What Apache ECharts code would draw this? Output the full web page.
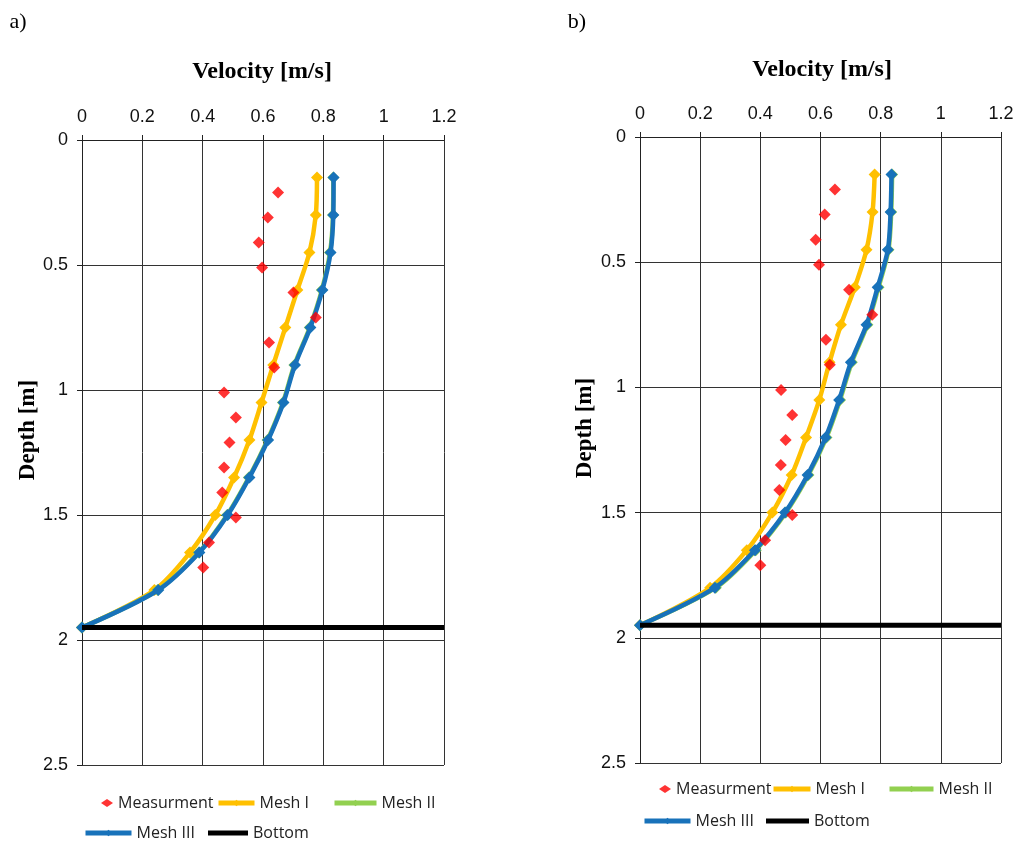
<!DOCTYPE html>
<html>
<head>
<meta charset="utf-8">
<script src="https://cdn.jsdelivr.net/npm/echarts@6/dist/echarts.min.js"></script>
<style>
html,body{margin:0;padding:0;background:#fff;}
#main{width:1019px;height:843px;}
</style>
</head>
<body>
<div id="main"></div>
<script>
// depth levels (m)
var depthMeas = [0.21, 0.31, 0.41, 0.51, 0.61, 0.71, 0.81, 0.91, 1.01, 1.11, 1.21, 1.31, 1.41, 1.51, 1.61, 1.71];
var depthMesh = [0.15, 0.3, 0.45, 0.6, 0.75, 0.9, 1.05, 1.2, 1.35, 1.5, 1.65, 1.8, 1.95];
var bottomDepth = 1.95;

// panel a) velocities (m/s)
var measA  = [0.650, 0.616, 0.586, 0.597, 0.701, 0.775, 0.620, 0.637, 0.471, 0.510, 0.489, 0.471, 0.465, 0.510, 0.421, 0.402];
var mesh1A = [0.779, 0.775, 0.754, 0.714, 0.674, 0.634, 0.595, 0.555, 0.504, 0.442, 0.358, 0.240, 0];
var mesh2A = [0.833, 0.832, 0.822, 0.795, 0.755, 0.704, 0.666, 0.615, 0.553, 0.481, 0.387, 0.251, 0];
var mesh3A = [0.834, 0.833, 0.824, 0.797, 0.757, 0.706, 0.668, 0.617, 0.555, 0.483, 0.389, 0.253, 0];

// panel b) velocities (m/s)
var measB  = [0.648, 0.614, 0.584, 0.595, 0.695, 0.772, 0.618, 0.631, 0.469, 0.506, 0.484, 0.468, 0.463, 0.506, 0.416, 0.400];
var mesh1B = [0.780, 0.773, 0.753, 0.714, 0.668, 0.630, 0.596, 0.552, 0.504, 0.440, 0.355, 0.233, 0];
var mesh2B = [0.838, 0.835, 0.826, 0.793, 0.756, 0.704, 0.665, 0.620, 0.560, 0.485, 0.385, 0.252, 0];
var mesh3B = [0.836, 0.833, 0.824, 0.790, 0.753, 0.701, 0.662, 0.617, 0.557, 0.482, 0.382, 0.249, 0];

var seriesNames = ['Measurment', 'Mesh I', 'Mesh II', 'Mesh III', 'Bottom'];
var colors = ['#FF0000', '#FFC000', '#92D050', '#1872BA', '#000000'];

function pairs(vals, depths) {
  return vals.map(function (v, i) { return [v, depths[i]]; });
}

var myChart = echarts.init(document.getElementById('main'));

var grids = [
  {left: 82, top: 140, width: 362, height: 625},
  {left: 640, top: 137, width: 361, height: 626}
];

var xAxes = [], yAxes = [], series = [], legends = [];
var panels = [
  {meas: measA, m1: mesh1A, m2: mesh2A, m3: mesh3A},
  {meas: measB, m1: mesh1B, m2: mesh2B, m3: mesh3B}
];

panels.forEach(function (p, k) {
  xAxes.push({
    type: 'value', gridIndex: k, position: 'top', min: 0, max: 1.2, interval: 0.2,
    axisLine: {show: true, onZero: false, lineStyle: {color: '#222', width: 1}},
    axisTick: {show: true, length: 5, lineStyle: {color: '#222'}},
    axisLabel: {color: '#111', fontSize: 18, fontFamily: 'Liberation Sans', margin: 14},
    splitLine: {show: true, lineStyle: {color: '#333', width: 1}}
  });
  yAxes.push({
    type: 'value', gridIndex: k, inverse: true, min: 0, max: 2.5, interval: 0.5,
    axisLine: {show: true, onZero: false, lineStyle: {color: '#222', width: 1}},
    axisTick: {show: true, length: 5, lineStyle: {color: '#222'}},
    axisLabel: {color: '#111', fontSize: 18, fontFamily: 'Liberation Sans', margin: 14},
    splitLine: {show: true, lineStyle: {color: '#333', width: 1}}
  });

  var lineSets = [p.m1, p.m2, p.m3];
  lineSets.forEach(function (vals, j) {
    series.push({
      name: seriesNames[j + 1], type: 'line', xAxisIndex: k, yAxisIndex: k,
      data: pairs(vals, depthMesh), smooth: 0.3,
      symbol: 'diamond', symbolSize: 12, showSymbol: true,
      itemStyle: {color: colors[j + 1]},
      lineStyle: {color: colors[j + 1], width: 4.5},
      z: 2 + j
    });
  });
  series.push({
    name: 'Bottom', type: 'line', xAxisIndex: k, yAxisIndex: k,
    data: [[0, bottomDepth], [1.2, bottomDepth]], symbol: 'none',
    itemStyle: {color: '#000'}, lineStyle: {color: '#000', width: 5}, z: 6
  });
  series.push({
    name: 'Measurment', type: 'scatter', xAxisIndex: k, yAxisIndex: k,
    data: pairs(p.meas, depthMeas), symbol: 'diamond', symbolSize: 12,
    itemStyle: {color: colors[0]}, z: 7
  });
});

// legend items placed like the Excel legend boxes
var legendPos = [
  // panel a
  {name: 'Measurment', left: 101, top: 805, w: 12},
  {name: 'Mesh I', left: 216, top: 805, w: 36},
  {name: 'Mesh II', left: 332, top: 805, w: 42},
  {name: 'Mesh III', left: 83, top: 835, w: 46},
  {name: 'Bottom', left: 208, top: 835, w: 40},
  // panel b
  {name: 'Measurment', left: 659, top: 791, w: 12},
  {name: 'Mesh I', left: 771, top: 791, w: 37},
  {name: 'Mesh II', left: 887, top: 791, w: 44},
  {name: 'Mesh III', left: 642, top: 823, w: 46},
  {name: 'Bottom', left: 766, top: 823, w: 43}
];
legendPos.forEach(function (l) {
  var item = l.name === 'Bottom' ? {name: l.name, icon: 'rect'} : l.name;
  legends.push({
    data: [item], left: l.left, top: l.top - 10, padding: 0,
    itemWidth: l.w, itemHeight: l.name === 'Bottom' ? 5 : 8, itemGap: 0, itemTextGap: 5,
    selectedMode: false,
    lineStyle: {width: 5},
    textStyle: {fontSize: 16, fontFamily: 'Open Sans', color: '#222'}
  });
});

var option = {
  animation: false,
  grid: grids,
  xAxis: xAxes,
  yAxis: yAxes,
  legend: legends,
  series: series,
  graphic: [
    {type: 'text', x: 18, y: 22, style: {text: 'a)', font: '22px "Liberation Serif"', fill: '#000', align: 'center', verticalAlign: 'middle'}},
    {type: 'text', x: 577, y: 22, style: {text: 'b)', font: '22px "Liberation Serif"', fill: '#000', align: 'center', verticalAlign: 'middle'}},
    {type: 'text', x: 262, y: 72, style: {text: 'Velocity [m/s]', font: 'bold 24px "Liberation Serif"', fill: '#000', align: 'center', verticalAlign: 'middle'}},
    {type: 'text', x: 822, y: 70, style: {text: 'Velocity [m/s]', font: 'bold 24px "Liberation Serif"', fill: '#000', align: 'center', verticalAlign: 'middle'}},
    {type: 'text', x: 28, y: 430, rotation: Math.PI / 2, style: {text: 'Depth [m]', font: 'bold 23px "Liberation Serif"', fill: '#000', align: 'center', verticalAlign: 'middle'}},
    {type: 'text', x: 585, y: 428, rotation: Math.PI / 2, style: {text: 'Depth [m]', font: 'bold 23px "Liberation Serif"', fill: '#000', align: 'center', verticalAlign: 'middle'}}
  ]
};

myChart.setOption(option);
</script>
</body>
</html>
